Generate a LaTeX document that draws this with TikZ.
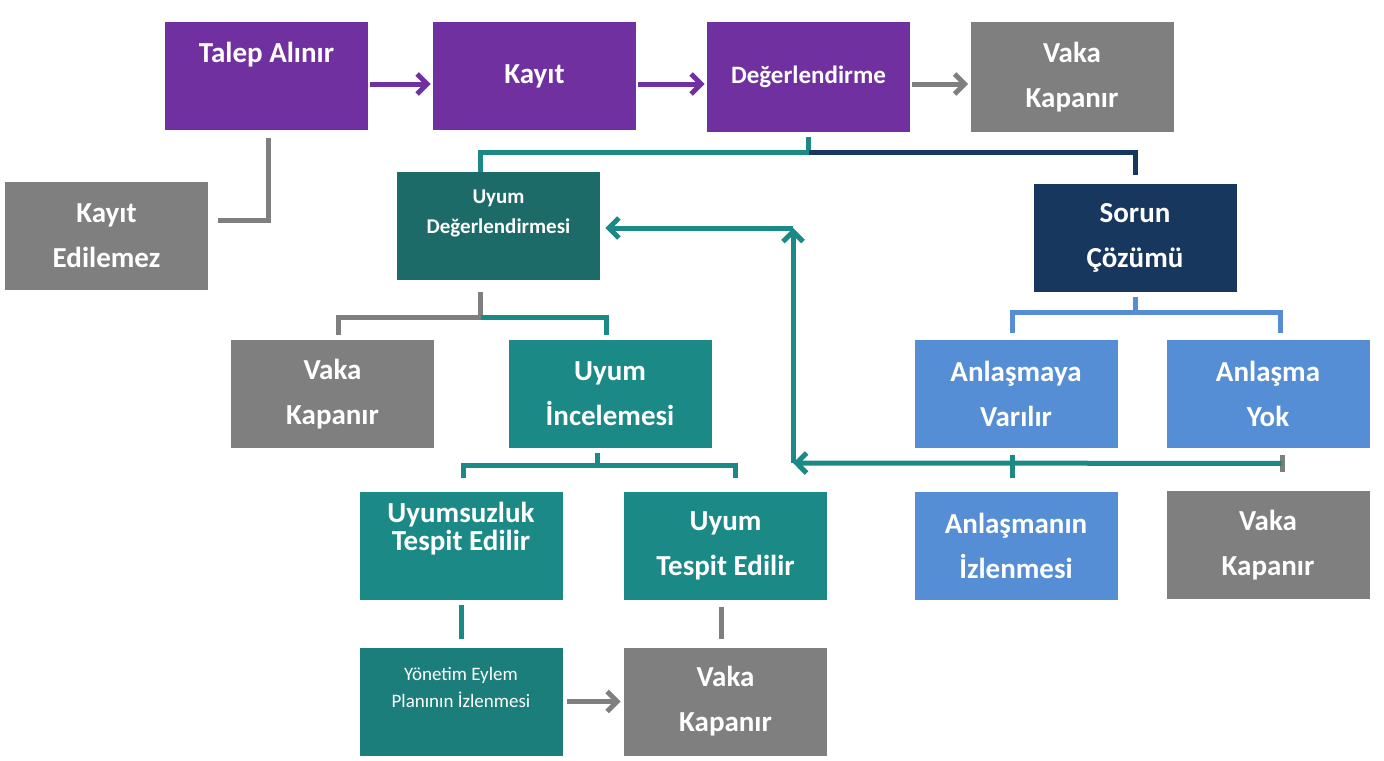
\documentclass[tikz,border=0pt]{standalone}
\usepackage{fontspec}
\setmainfont{Carlito}
\usepackage{xcolor}
\usepackage{tikz}
\usetikzlibrary{arrows.meta,positioning}
\definecolor{mor}{HTML}{7030A0}
\definecolor{gri}{HTML}{7F7F7F}
\definecolor{camgobegi}{HTML}{1B8A86}
\definecolor{koyucam}{HTML}{1C6B68}
\definecolor{lacivert}{HTML}{17375E}
\definecolor{acikmavi}{HTML}{558ED5}

\begin{document}
\begin{tikzpicture}[x=0.5pt,y=-0.5pt,>={Straight Barb[length=5pt,width=10pt]},
  box/.style={rectangle,minimum width=101.5pt,minimum height=54pt,inner sep=0pt,align=center,text=white,
    font=\fontsize{14.5}{22.5}\selectfont\bfseries},
  small/.style={align=center,text=white,inner sep=0pt},
  pline/.style={draw=mor,line width=2.5pt},
  gline/.style={draw=gri,line width=2.5pt},
  tline/.style={draw=camgobegi,line width=2.5pt},
  nline/.style={draw=lacivert,line width=2.5pt},
  bline/.style={draw=acikmavi,line width=2.5pt}]
\useasboundingbox (0,0) rectangle (1384,760);
% ust satir
\node[box,fill=mor] (talep) at (266.5,76) {};
\node[small,font=\fontsize{14.5}{22.5}\selectfont\bfseries] (talep-t) at (266.5,55) {Talep Alınır};
\node[box,fill=mor] (kayit) at (534.5,76) {Kayıt};
\node[box,fill=mor,minimum height=55pt,font=\fontsize{12.5}{16}\selectfont\bfseries] (deger) at (808.5,77) {Değerlendirme};
\node[box,fill=gri,minimum height=55pt] (vaka1) at (1072,77) {Vaka\\Kapanır};
\node[box,fill=gri] (edilemez) at (106.5,236) {Kayıt\\Edilemez};
% ikinci seviye
\node[box,fill=koyucam] (uyumdeg) at (498.5,226) {};
\node[small,font=\fontsize{10.5}{15}\selectfont\bfseries] (uyumdeg-t) at (498.5,213) {Uyum\\Değerlendirmesi};
\node[box,fill=lacivert] (sorun) at (1135,237.5) {Sorun\\Çözümü};
\node[box,fill=gri] (vaka2) at (332.5,394) {Vaka\\Kapanır};
\node[box,fill=camgobegi] (incele) at (610,394) {Uyum\\İncelemesi};
\node[box,fill=acikmavi] (varilir) at (1016,394) {Anlaşmaya\\Varılır};
\node[box,fill=acikmavi] (yok) at (1268,394) {Anlaşma\\Yok};
% alt seviye
\node[box,fill=camgobegi] (uyumsuz) at (461,546) {};
\node[small,font=\fontsize{14.5}{14}\selectfont\bfseries] (uyumsuz-t) at (461,529) {Uyumsuzluk\\Tespit Edilir};
\node[box,fill=camgobegi] (tespit) at (725.5,546) {Uyum\\Tespit Edilir};
\node[box,fill=acikmavi] (izlenme) at (1016,546) {Anlaşmanın\\İzlenmesi};
\node[box,fill=gri] (vaka3) at (1268,545) {Vaka\\Kapanır};
\node[box,fill=koyucam!40!camgobegi] (yonetim) at (461,701.5) {};
\node[small,font=\fontsize{9.5}{13.5}\selectfont] (yonetim-t) at (461,687) {Yönetim Eylem\\Planının İzlenmesi};
\node[box,fill=gri] (vaka4) at (725.5,701.5) {Vaka\\Kapanır};
% baglantilar
\draw[pline,->] ([xshift=1pt,yshift=-4pt]talep.east) -- ([xshift=-1pt,yshift=-4pt]kayit.west);
\draw[pline,->] ([xshift=1pt,yshift=-4pt]kayit.east) -- ([xshift=-1pt,yshift=-3.5pt]deger.west);
\draw[gline,->] ([xshift=1pt,yshift=-3.5pt]deger.east) -- ([xshift=-1pt,yshift=-3.5pt]vaka1.west);
\draw[gline] ([xshift=1pt,yshift=-4pt]talep.south) |- ([xshift=5pt,yshift=8pt]edilemez.east);
\draw[tline] ([yshift=-2.5pt]deger.south) -- ++(0,15) coordinate (fa) -| ([xshift=-9pt]uyumdeg.north);
\draw[nline] (fa) -| ([yshift=4pt]sorun.north);
\draw[gline] ([xshift=-9pt,yshift=-6pt]uyumdeg.south) -- ++(0,25) coordinate (fb) -| ([xshift=3pt,yshift=2.5pt]vaka2.north);
\draw[tline] (fb) -| ([xshift=-2pt,yshift=2.5pt]incele.north);
\draw[tline] ([xshift=-6.5pt,yshift=-2.5pt]incele.south) -- ++(0,13);
\draw[tline] ([xshift=1pt,yshift=7pt]uyumsuz.north) -- ([xshift=1pt,yshift=13pt]uyumsuz.north) -| ([xshift=5pt,yshift=7pt]tespit.north);
\draw[bline] ([yshift=-2.5pt]sorun.south) -- ++(0,16);
\draw[bline] ([xshift=-2pt,yshift=3.5pt]varilir.north) -- ([xshift=-2pt,yshift=13.5pt]varilir.north) -| ([xshift=6pt,yshift=3.5pt]yok.north);
% geri donus
\coordinate (ra) at (793,463);
\coordinate (rb) at (793,228);
\draw[gline] ([xshift=7pt,yshift=-3.5pt]yok.south) -- ++(0,17);
\draw[tline] ([xshift=-2pt,yshift=-3.5pt]varilir.south) -- ++(0,23);
\draw[tline,->] ([xshift=7pt,yshift=-7.5pt]yok.south) -- (ra);
\draw[tline,->] (ra) -- (rb);
\draw[tline,->] (rb) -- ([xshift=2.5pt]uyumdeg.east |- rb);
\draw[tline] ([yshift=-2.5pt]uyumsuz.south) -- ([yshift=4pt]yonetim.north);
\draw[gline] ([xshift=-2pt,yshift=-3.5pt]tespit.south) -- ([xshift=-2pt,yshift=4pt]vaka4.north);
\draw[gline,->] ([xshift=2pt]yonetim.east) -- ([xshift=-1.5pt]vaka4.west);
\end{tikzpicture}
\end{document}
